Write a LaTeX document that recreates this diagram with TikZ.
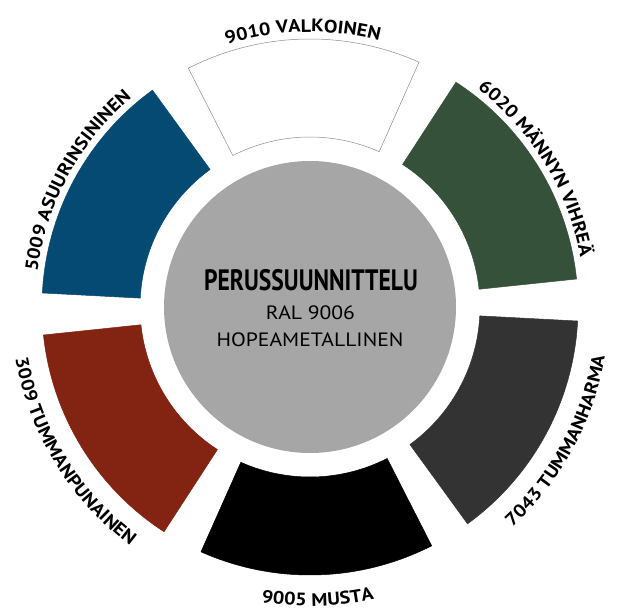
\documentclass[tikz,border=0pt]{standalone}
\usepackage{fontspec}
\setmainfont{PT Sans}
\newfontfamily\labelfont{PT Sans}[FakeStretch=1.12]
\newfontfamily\titlefont{PT Sans}[FakeStretch=0.8]
\usepackage{xcolor}
\usepackage{tikz}
\usetikzlibrary{calc, positioning, decorations.text}

\definecolor{hubgray}{HTML}{A6A6A6}
\definecolor{rimgray}{HTML}{8C8C8C}
\definecolor{ralgreen}{HTML}{35513A}
\definecolor{raldark}{HTML}{333333}
\definecolor{ralblack}{HTML}{000000}
\definecolor{ralred}{HTML}{832412}
\definecolor{ralblue}{HTML}{044A72}
\newcommand{\lblfont}{\labelfont\bfseries\fontsize{18pt}{18pt}\selectfont}

\begin{document}
\begin{tikzpicture}[x=1pt, y=1pt,
  hub/.style={circle, fill=hubgray, minimum size=292pt, inner sep=0pt},
  sector/.style={fill=#1, line width=0.5pt},
  ctext/.style={anchor=base, font=\labelfont\fontsize{19.3pt}{19.3pt}\selectfont}
]
\useasboundingbox (0,0) rectangle (620,611);
\coordinate (ctr) at (310,304);

\foreach \ang/\col/\rim in {91.5/white/rimgray, 31.5/ralgreen/ralgreen, -28.5/raldark/raldark,
  -88.5/ralblack/ralblack, -148.5/ralred/ralred, 151.5/ralblue/ralblue}
  \filldraw[sector=\col, draw=\rim] ($(ctr)+({\ang+25.5}:170)$) arc[start angle=\ang+25.5, end angle=\ang-25.5, radius=170]
    -- ($(ctr)+({\ang-25.5}:268)$) arc[start angle=\ang-25.5, end angle=\ang+25.5, radius=268] -- cycle;

\foreach \ang/\txt in {91.5/9010 VALKOINEN, 31.5/6020 MÄNNYN VIHREÄ, 151.5/5009 ASUURINSININEN}
  \path[decorate, decoration={text along path, text align=center, text/.expanded={|\noexpand\lblfont|\txt}}]
    ($(ctr)+({\ang+50}:275)$) arc[start angle=\ang+50, end angle=\ang-50, radius=275];

\foreach \ang/\txt in {-28.5/7043 TUMMANHARMA, -88.5/9005 MUSTA, -148.5/3009 TUMMANPUNAINEN}
  \path[decorate, decoration={text along path, text align=center, text/.expanded={|\noexpand\lblfont|\txt}}]
    ($(ctr)+({\ang-50}:299)$) arc[start angle=\ang-50, end angle=\ang+50, radius=299];

\node[hub] (hub) at (ctr) {};
\node[anchor=base] (title) at (311,321) {\titlefont\bfseries\fontsize{29.5pt}{30pt}\selectfont PERUSSUUNNITTELU};
\node[ctext] (ral) at (310.5,292) {RAL 9006};
\node[ctext] (name) at (310,265) {HOPEAMETALLINEN};
\end{tikzpicture}
\end{document}
